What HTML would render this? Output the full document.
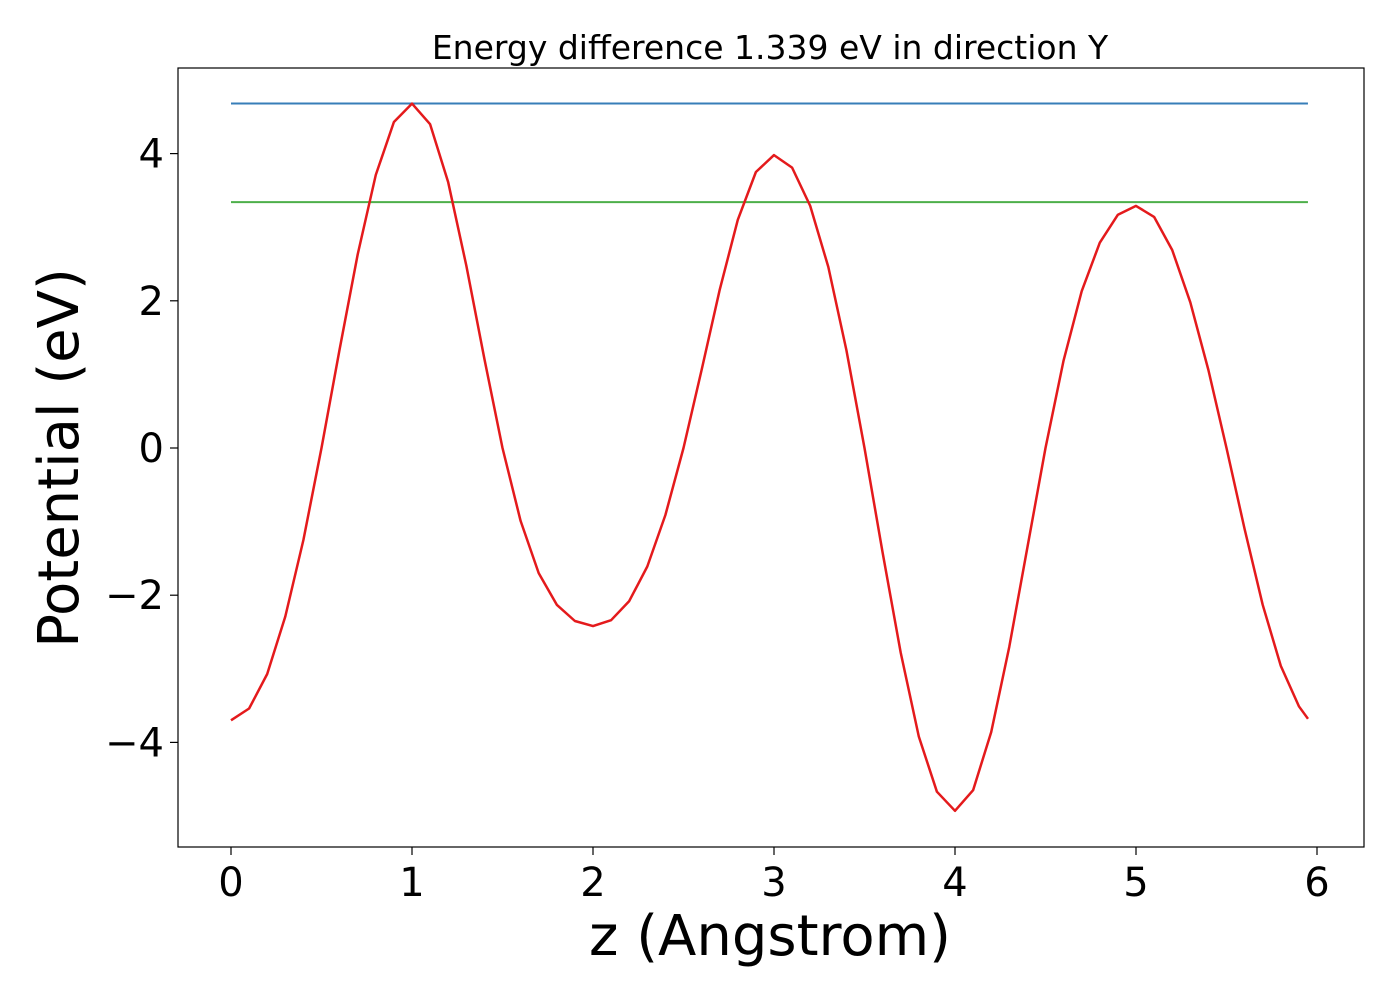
<!DOCTYPE html>
<html><head><meta charset="utf-8">
<style>
html,body{margin:0;padding:0;background:#fff;}
svg text{font-family:"DejaVu Sans","Liberation Sans",sans-serif;fill:#000;}
</style></head>
<body>
<svg id="chart" width="1400" height="1000" viewBox="0 0 1400 1000" xmlns="http://www.w3.org/2000/svg">
<rect x="0" y="0" width="1400" height="1000" fill="#fff"/>
<text x="770" y="59" font-size="33" text-anchor="middle">Energy difference 1.339 eV in direction Y</text>
<g id="plot"></g>
<rect x="178" y="68" width="1186" height="779" fill="none" stroke="#000" stroke-width="1.2"/>
<text x="770" y="955" font-size="56" text-anchor="middle">z (Angstrom)</text>
<text transform="translate(78,458) rotate(-90)" font-size="56" text-anchor="middle">Potential (eV)</text>
</svg>
<script>
const zValues = [0,0.1,0.2,0.3,0.4,0.5,0.6,0.7,0.8,0.9,1,1.1,1.2,1.3,1.4,1.5,1.6,1.7,1.8,1.9,2,2.1,2.2,2.3,2.4,2.5,2.6,2.7,2.8,2.9,3,3.1,3.2,3.3,3.4,3.5,3.6,3.7,3.8,3.9,4,4.1,4.2,4.3,4.4,4.5,4.6,4.7,4.8,4.9,5,5.1,5.2,5.3,5.4,5.5,5.6,5.7,5.8,5.9,5.95];
const potential = [-3.70,-3.54,-3.07,-2.29,-1.25,0,1.34,2.63,3.71,4.43,4.68,4.40,3.61,2.48,1.21,0,-0.99,-1.70,-2.13,-2.35,-2.42,-2.34,-2.08,-1.61,-0.91,0,1.06,2.15,3.10,3.75,3.98,3.81,3.29,2.46,1.33,0,-1.42,-2.78,-3.92,-4.67,-4.93,-4.65,-3.86,-2.70,-1.35,0,1.19,2.13,2.79,3.17,3.29,3.14,2.69,1.98,1.06,0,-1.10,-2.13,-2.96,-3.51,-3.68];
const maxLevel = [4.68];
const diffLevel = [3.341];
const hLineRange = [0,5.95];
const xTicks = [0,1,2,3,4,5,6];
const yTicks = [-4,-2,0,2,4];
const yTickLabels = ["\u22124","\u22122","0","2","4"];

const xs = v => 231 + v*181;
const ys = v => 448 - v*73.6;
const NS = "http://www.w3.org/2000/svg";
const g = document.getElementById('plot');
function mk(tag, attrs){const e=document.createElementNS(NS,tag);for(const k in attrs)e.setAttribute(k,attrs[k]);g.appendChild(e);return e;}

xTicks.forEach(t=>{
  const l=mk('line',{x1:xs(t),x2:xs(t),y1:847,y2:855,stroke:'#000','stroke-width':1.2});
  
  
  const tx=mk('text',{x:xs(t),y:896,'font-size':40,'text-anchor':'middle'});
  tx.textContent=String(t);
  
  
});
yTicks.forEach((t,i)=>{
  const l=mk('line',{x1:170,x2:178,y1:ys(t),y2:ys(t),stroke:'#000','stroke-width':1.2});
  
  
  const tx=mk('text',{x:164,y:ys(t)+14,'font-size':40,'text-anchor':'end'});
  tx.textContent=yTickLabels[i];
  
  
});
const b=mk('line',{x1:xs(hLineRange[0]),x2:xs(hLineRange[1]),y1:ys(maxLevel[0]),y2:ys(maxLevel[0]),stroke:'#377eb8','stroke-width':2});


const gr=mk('line',{x1:xs(hLineRange[0]),x2:xs(hLineRange[1]),y1:ys(diffLevel[0]),y2:ys(diffLevel[0]),stroke:'#4daf4a','stroke-width':2});


const pts=zValues.map((z,i)=>xs(z).toFixed(1)+','+ys(potential[i]).toFixed(1)).join(' ');
const p=mk('polyline',{points:pts,fill:'none',stroke:'#e41a1c','stroke-width':2.5,'stroke-linejoin':'round'});


</script>
</body></html>
